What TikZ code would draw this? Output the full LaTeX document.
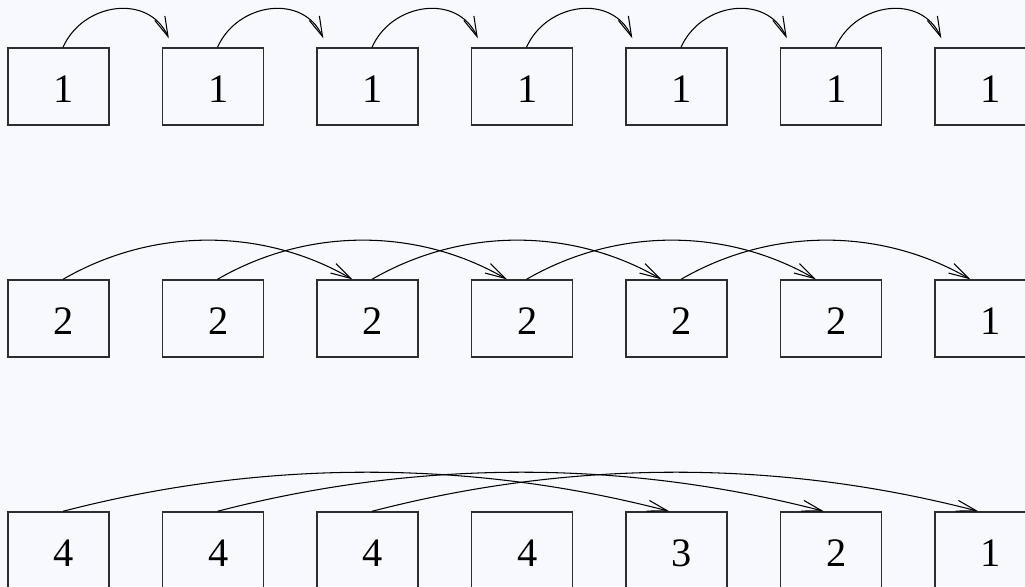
\documentclass[tikz,border=0pt]{standalone}
\usepackage{fontspec}
\setmainfont{Liberation Serif}
\usepackage{tikz}
\usetikzlibrary{arrows.meta}
\definecolor{paper}{HTML}{F8F8FF}
\definecolor{boxline}{HTML}{2E2E2E}
\tikzset{
  >={Straight Barb[length=4mm,width=2.2mm]},
  % felder
  cell/.style={rectangle,draw=boxline,line width=0.8pt,inner sep=0pt,
               minimum width=2.02cm,minimum height=1.54cm},
  num/.style={font=\fontsize{23}{27}\selectfont,inner sep=0pt,
              xshift=1.1mm,yshift=-0.6mm},
  % spruenge
  hop/.style={->,draw=black,line width=0.6pt},
}
\begin{document}
\begin{tikzpicture}
  \fill[paper] (0,0) rectangle (20.5,11.72);
  \useasboundingbox (0,0) rectangle (20.5,11.72);
  % zeile 1
  \node[cell,label={[num]center:1}] (a1) at (1.17,9.99) {};
  \node[cell,label={[num]center:1}] (a2) at (4.26,9.99) {};
  \node[cell,label={[num]center:1}] (a3) at (7.35,9.99) {};
  \node[cell,label={[num]center:1}] (a4) at (10.44,9.99) {};
  \node[cell,label={[num]center:1}] (a5) at (13.53,9.99) {};
  \node[cell,label={[num]center:1}] (a6) at (16.62,9.99) {};
  \node[cell,label={[num]center:1}] (a7) at (19.71,9.99) {};
  % zeile 2
  \node[cell,label={[num]center:2}] (b1) at (1.17,5.35) {};
  \node[cell,label={[num]center:2}] (b2) at (4.26,5.35) {};
  \node[cell,label={[num]center:2}] (b3) at (7.35,5.35) {};
  \node[cell,label={[num]center:2}] (b4) at (10.44,5.35) {};
  \node[cell,label={[num]center:2}] (b5) at (13.53,5.35) {};
  \node[cell,label={[num]center:2}] (b6) at (16.62,5.35) {};
  \node[cell,label={[num]center:1}] (b7) at (19.71,5.35) {};
  % zeile 3
  \node[cell,label={[num]center:4}] (c1) at (1.17,0.71) {};
  \node[cell,label={[num]center:4}] (c2) at (4.26,0.71) {};
  \node[cell,label={[num]center:4}] (c3) at (7.35,0.71) {};
  \node[cell,label={[num]center:4}] (c4) at (10.44,0.71) {};
  \node[cell,label={[num]center:3}] (c5) at (13.53,0.71) {};
  \node[cell,label={[num]center:2}] (c6) at (16.62,0.71) {};
  \node[cell,label={[num]center:1}] (c7) at (19.71,0.71) {};
  % schritt 1
  \draw[hop] ([xshift=0.9mm]a1.north) .. controls +(0.4,0.9) and +(-0.4,0.9) .. ([shift={(1.4mm,1.8mm)}]a2.north west);
  \draw[hop] ([xshift=0.9mm]a2.north) .. controls +(0.4,0.9) and +(-0.4,0.9) .. ([shift={(1.4mm,1.8mm)}]a3.north west);
  \draw[hop] ([xshift=0.9mm]a3.north) .. controls +(0.4,0.9) and +(-0.4,0.9) .. ([shift={(1.4mm,1.8mm)}]a4.north west);
  \draw[hop] ([xshift=0.9mm]a4.north) .. controls +(0.4,0.9) and +(-0.4,0.9) .. ([shift={(1.4mm,1.8mm)}]a5.north west);
  \draw[hop] ([xshift=0.9mm]a5.north) .. controls +(0.4,0.9) and +(-0.4,0.9) .. ([shift={(1.4mm,1.8mm)}]a6.north west);
  \draw[hop] ([xshift=0.9mm]a6.north) .. controls +(0.4,0.9) and +(-0.4,0.9) .. ([shift={(1.4mm,1.8mm)}]a7.north west);
  % schritt 2
  \draw[hop] ([xshift=0.9mm]b1.north) .. controls +(1.8,1.04) and +(-1.8,1.04) .. ([xshift=7.2mm]b3.north west);
  \draw[hop] ([xshift=0.9mm]b2.north) .. controls +(1.8,1.04) and +(-1.8,1.04) .. ([xshift=7.2mm]b4.north west);
  \draw[hop] ([xshift=0.9mm]b3.north) .. controls +(1.8,1.04) and +(-1.8,1.04) .. ([xshift=7.2mm]b5.north west);
  \draw[hop] ([xshift=0.9mm]b4.north) .. controls +(1.8,1.04) and +(-1.8,1.04) .. ([xshift=7.2mm]b6.north west);
  \draw[hop] ([xshift=0.9mm]b5.north) .. controls +(1.8,1.04) and +(-1.8,1.04) .. ([xshift=7.2mm]b7.north west);
  % schritt 4
  \draw[hop] ([xshift=0.9mm]c1.north) .. controls +(4,1.04) and +(-4,1.04) .. ([xshift=8.8mm]c5.north west);
  \draw[hop] ([xshift=0.9mm]c2.north) .. controls +(4,1.04) and +(-4,1.04) .. ([xshift=8.8mm]c6.north west);
  \draw[hop] ([xshift=0.9mm]c3.north) .. controls +(4,1.04) and +(-4,1.04) .. ([xshift=8.8mm]c7.north west);
\end{tikzpicture}
\end{document}
